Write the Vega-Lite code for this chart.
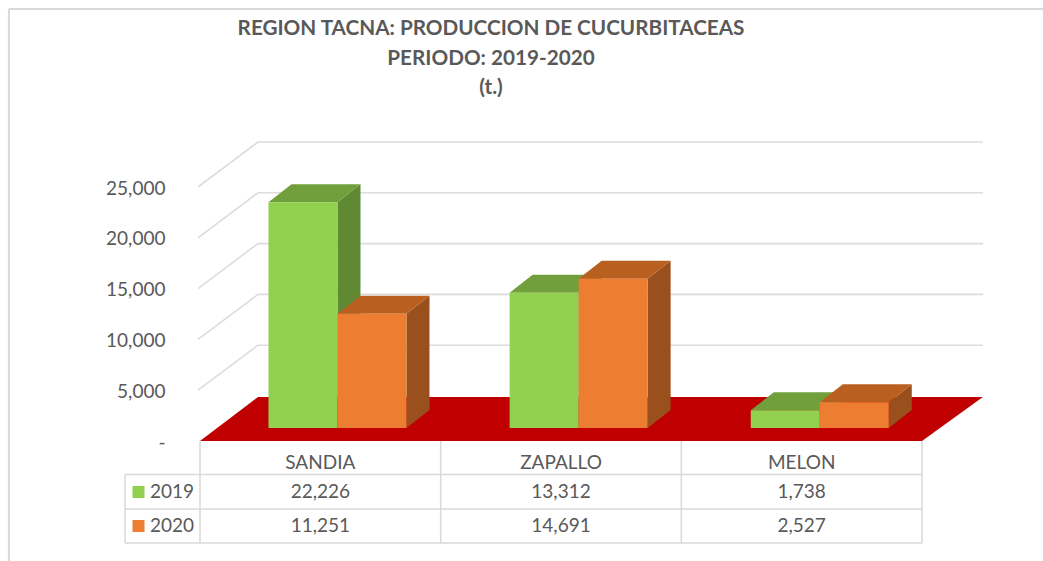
{
"$schema":"https://vega.github.io/schema/vega-lite/v6.json",
"autosize":{"type":"none"},
"padding":{"left":200,"top":187,"right":121,"bottom":120},
"width":722,"height":254,
"background":"white",
"config":{"view":{"stroke":null}},
"title":{"text":["REGION TACNA: PRODUCCION DE CUCURBITACEAS","PERIODO: 2019-2020","(t.)"],"font":"Lato","fontSize":20.7,"fontWeight":"bold","color":"#595959","lineHeight":29.5,"anchor":"middle","dx":-70,"offset":-91,"frame":"group"},
"datasets":{
"prod":[
{"region":"SANDIA","year":"2019","value":22226},
{"region":"SANDIA","year":"2020","value":11251},
{"region":"ZAPALLO","year":"2019","value":13312},
{"region":"ZAPALLO","year":"2020","value":14691},
{"region":"MELON","year":"2019","value":1738},
{"region":"MELON","year":"2020","value":2527}
],
"ticks":[{"tick":0},{"tick":5000},{"tick":10000},{"tick":15000},{"tick":20000},{"tick":25000}],
"frame":[{"part":"chartTop"},{"part":"chartLeft"}],
"table":[{"part":"v0"},{"part":"v1"},{"part":"v2"},{"part":"v3"},{"part":"vl"},{"part":"h1"},{"part":"h2"},{"part":"h3"}]
},
"resolve":{"scale":{"x":"independent","y":"independent","color":"independent"}},
"layer":[
{"resolve":{"axis":{"y":"independent"}},"layer":[
{"data":{"name":"frame"},
 "transform":[{"calculate":"{chartTop:[-0.794,3.503,42520,42520],chartLeft:[-0.794,-0.794,42520,-11811]}[datum.part]","as":"c"},{"calculate":"datum.c[0]","as":"a"},{"calculate":"datum.c[1]","as":"b"},{"calculate":"datum.c[2]","as":"p"},{"calculate":"datum.c[3]","as":"q"}],
 "mark":{"type":"rule","color":"#d9d9d9","strokeWidth":2},
 "encoding":{"x":{"field":"a","type":"quantitative","scale":{"domain":[0,3]},"axis":null},"x2":{"field":"b"},"y":{"field":"p","type":"quantitative","scale":{"domain":[0,25000]},"axis":null},"y2":{"field":"q"}}},
{"data":{"name":"ticks"},
 "transform":[{"filter":"datum.tick>0"},{"calculate":"datum.tick+4429","as":"backTick"},{"calculate":"-0.0083","as":"a"},{"calculate":"0.241","as":"b"}],
 "mark":{"type":"rule","color":"#dcdcdc","strokeWidth":1.6},
 "encoding":{"x":{"field":"a","type":"quantitative","scale":{"domain":[0,3]},"axis":null},"x2":{"field":"b"},"y":{"field":"tick","type":"quantitative","scale":{"domain":[0,25000]},"axis":null},"y2":{"field":"backTick"}}},
{"data":{"name":"ticks"},
 "transform":[{"filter":"datum.tick>0"},{"calculate":"datum.tick+4429","as":"backTick"},{"calculate":"0.241","as":"a"},{"calculate":"3.253","as":"b"}],
 "mark":{"type":"rule","color":"#dcdcdc","strokeWidth":1.6},
 "encoding":{"x":{"field":"a","type":"quantitative","scale":{"domain":[0,3]},"axis":null},"x2":{"field":"b"},"y":{"field":"backTick","type":"quantitative","scale":{"domain":[0,25000]},"axis":null}}},
{"data":{"name":"ticks"},
 "transform":[{"calculate":"0","as":"a"}],
 "mark":{"type":"point","opacity":0},
 "encoding":{"x":{"field":"a","type":"quantitative","scale":{"domain":[0,3]},"axis":null},"y":{"field":"tick","type":"quantitative","scale":{"domain":[0,25000]},
  "axis":{"title":null,"domain":false,"ticks":false,"grid":false,"values":[0,5000,10000,15000,20000,25000],"labelPadding":35,"labelOffset":1,"labelFont":"Lato","labelFontSize":19,"labelColor":"#595959","labelExpr":"datum.value==0?'-\u00a0\u00a0\u00a0':format(datum.value,',')"}}}},
{"data":{"values":[{"edge":"front"},{"edge":"back"}]},
 "transform":[{"calculate":"datum.edge=='back'?1:0","as":"t"},{"calculate":"datum.t*0.241","as":"xl"},{"calculate":"3+datum.t*0.253","as":"xr"},{"calculate":"datum.t*4331","as":"yy"}],
 "mark":{"type":"area","orient":"horizontal","color":"#C00000","line":false},
 "encoding":{"x":{"field":"xl","type":"quantitative","scale":{"domain":[0,3]},"axis":null},"x2":{"field":"xr"},"y":{"field":"yy","type":"quantitative","scale":{"domain":[0,25000]},"axis":null}}},
{"data":{"name":"prod"},
 "transform":[
 {"calculate":"indexof(['SANDIA','ZAPALLO','MELON'],datum.region)*1.002+0.2845+(datum.year=='2020'?0.2867:0)","as":"x0"},
 {"calculate":"datum.x0+0.2867","as":"x1"},
 {"calculate":"datum.value+1280","as":"top"},
 {"calculate":"0","as":"near"},{"calculate":"1","as":"far"},
 {"fold":["near","far"],"as":["edge","t"]},
 {"calculate":"datum.x1+datum.t*0.0956","as":"sx"},
 {"calculate":"1280+datum.t*1772","as":"sy0"},
 {"calculate":"datum.top+datum.t*1772","as":"sy1"},
 {"calculate":"datum.x0+datum.t*0.0956","as":"tx0"}
 ],
 "resolve":{"scale":{"color":"independent"}},
 "layer":[
 {"mark":{"type":"area","orient":"vertical"},
  "encoding":{"x":{"field":"sx","type":"quantitative","scale":{"domain":[0,3]},"axis":null},"y":{"field":"sy0","type":"quantitative","scale":{"domain":[0,25000]},"axis":null},"y2":{"field":"sy1"},"detail":{"field":"region"},
  "color":{"field":"year","type":"nominal","scale":{"domain":["2019","2020"],"range":["#5F8A33","#9A501C"]},"legend":null}}},
 {"mark":{"type":"area","orient":"horizontal"},
  "encoding":{"x":{"field":"tx0","type":"quantitative","scale":{"domain":[0,3]},"axis":null},"x2":{"field":"sx"},"y":{"field":"sy1","type":"quantitative","scale":{"domain":[0,25000]},"axis":null},"detail":{"field":"region"},
  "color":{"field":"year","type":"nominal","scale":{"domain":["2019","2020"],"range":["#709F3C","#B96021"]},"legend":null}}},
 {"transform":[{"filter":"datum.t==0"},{"calculate":"1280","as":"base"}],"mark":{"type":"rect"},
  "encoding":{"x":{"field":"x0","type":"quantitative","scale":{"domain":[0,3]},"axis":null},"x2":{"field":"x1"},"y":{"field":"base","type":"quantitative","scale":{"domain":[0,25000]},"axis":null},"y2":{"field":"top"},
  "color":{"field":"year","type":"nominal","scale":{"domain":["2019","2020"],"range":["#92D050","#ED7D31"]},"legend":null}}}
 ]},
{"data":{"name":"table"},
 "transform":[{"calculate":"{v0:[0,0,0,-10039],v1:[1,1,0,-10039],v2:[2,2,0,-10039],v3:[3,3,0,-10039],vl:[-0.3116,-0.3116,-3297,-10039],h1:[-0.3116,3,-3297,-3297],h2:[-0.3116,3,-6693,-6693],h3:[-0.3116,3,-10039,-10039]}[datum.part]","as":"c"},{"calculate":"datum.c[0]","as":"a"},{"calculate":"datum.c[1]","as":"b"},{"calculate":"datum.c[2]","as":"p"},{"calculate":"datum.c[3]","as":"q"}],
 "mark":{"type":"rule","color":"#d9d9d9","strokeWidth":1.5},
 "encoding":{"x":{"field":"a","type":"quantitative","scale":{"domain":[0,3]},"axis":null},"x2":{"field":"b"},"y":{"field":"p","type":"quantitative","scale":{"domain":[0,25000]},"axis":null},"y2":{"field":"q"}}}
]},
{"data":{"name":"prod"},
 "layer":[
 {"transform":[{"filter":"datum.year=='2019'"},{"calculate":"'head'","as":"row"}],
  "mark":{"type":"text","font":"Lato","fontSize":19,"color":"#595959","dy":5},
  "encoding":{"text":{"field":"region","type":"nominal"},"x":{"field":"region","type":"nominal","scale":{"type":"band","domain":["SANDIA","ZAPALLO","MELON"],"paddingInner":0,"paddingOuter":0},"axis":null},
  "y":{"field":"row","type":"nominal","scale":{"type":"band","domain":["head","2019","2020"],"range":[254,356],"paddingInner":0,"paddingOuter":0},"axis":null}}},
 {"transform":[{"calculate":"datum.year","as":"row"}],"mark":{"type":"text","font":"Lato","fontSize":19,"color":"#595959"},
  "encoding":{"text":{"field":"value","type":"quantitative","format":","},"x":{"field":"region","type":"nominal","scale":{"type":"band","domain":["SANDIA","ZAPALLO","MELON"],"paddingInner":0,"paddingOuter":0},"axis":null},
  "y":{"field":"row","type":"nominal","scale":{"type":"band","domain":["head","2019","2020"],"range":[254,356],"paddingInner":0,"paddingOuter":0},"axis":null}}}
 ]},
{"data":{"name":"prod"},
 "transform":[{"filter":"datum.region=='SANDIA'"},{"calculate":"-0.2555","as":"swatchX"},{"calculate":"-0.2078","as":"labelX"}],
 "layer":[
 {"mark":{"type":"square","filled":true,"size":144,"opacity":1},
  "encoding":{"x":{"field":"swatchX","type":"quantitative","scale":{"domain":[0,3]},"axis":null},
  "y":{"field":"year","type":"nominal","scale":{"type":"band","domain":["head","2019","2020"],"range":[254,356],"paddingInner":0,"paddingOuter":0},"axis":null},
  "color":{"field":"year","type":"nominal","scale":{"domain":["2019","2020"],"range":["#92D050","#ED7D31"]},"legend":null}}},
 {"mark":{"type":"text","font":"Lato","fontSize":19,"color":"#595959","align":"left"},
  "encoding":{"text":{"field":"year","type":"nominal"},"x":{"field":"labelX","type":"quantitative","scale":{"domain":[0,3]},"axis":null},
  "y":{"field":"year","type":"nominal","scale":{"type":"band","domain":["head","2019","2020"],"range":[254,356],"paddingInner":0,"paddingOuter":0},"axis":null}}}
 ]}
]
}
